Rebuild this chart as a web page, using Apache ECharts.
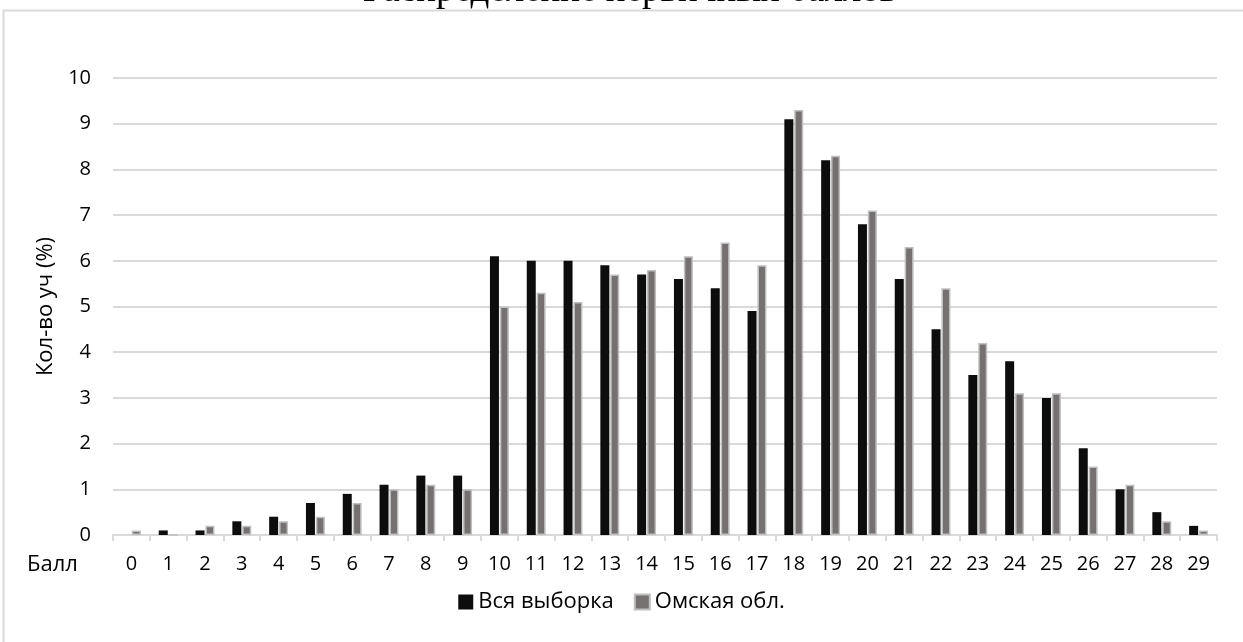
<!DOCTYPE html>
<html>
<head>
<meta charset="utf-8">
<script src="https://cdn.jsdelivr.net/npm/echarts@6/dist/echarts.min.js"></script>
<style>
html,body{margin:0;padding:0;background:#fff;}
#chart{width:1243px;height:642px;}
</style>
</head>
<body>
<div id="chart"></div>
<script>
const titleText = 'Распределение первичных баллов';
const categories = ['0','1','2','3','4','5','6','7','8','9','10','11','12','13','14','15','16','17','18','19','20','21','22','23','24','25','26','27','28','29'];
const seriesNames = ['Вся выборка', 'Омская обл.'];
const allSample = [0, 0.1, 0.1, 0.3, 0.4, 0.7, 0.9, 1.1, 1.3, 1.3, 6.1, 6.0, 6.0, 5.9, 5.7, 5.6, 5.4, 4.9, 9.1, 8.2, 6.8, 5.6, 4.5, 3.5, 3.8, 3.0, 1.9, 1.0, 0.5, 0.2];
const omsk = [0.1, 0, 0.2, 0.2, 0.3, 0.4, 0.7, 1.0, 1.1, 1.0, 5.0, 5.3, 5.1, 5.7, 5.8, 6.1, 6.4, 5.9, 9.3, 8.3, 7.1, 6.3, 5.4, 4.2, 3.1, 3.1, 1.5, 1.1, 0.3, 0.1];
const yAxisName = 'Кол-во уч (%)';
const xAxisName = 'Балл';

const FONT = 'Open Sans';
const chart = echarts.init(document.getElementById('chart'), null, {renderer: 'canvas'});
chart.setOption({
  animation: false,
  backgroundColor: '#fff',
  graphic: [
    {type: 'rect', shape: {x: 3.5, y: 10.5, width: 1400, height: 800}, style: {fill: 'none', stroke: '#d9d9d9', lineWidth: 2}, silent: true},
    {type: 'text', x: 630, y: -9, style: {text: titleText, font: '37px "Liberation Serif"', fill: '#000', align: 'center', verticalAlign: 'middle'}},
    {type: 'text', x: 27, y: 565, style: {text: xAxisName, font: '22px "' + FONT + '"', fill: '#000', align: 'left', verticalAlign: 'middle'}}
  ],
  grid: {left: 113, right: 26, top: 78, bottom: 107, containLabel: false},
  legend: {
    data: seriesNames,
    bottom: 24,
    left: 'center',
    icon: 'rect',
    itemWidth: 15,
    itemHeight: 15,
    itemGap: 20,
    textStyle: {fontFamily: FONT, fontSize: 22, color: '#000'}
  },
  xAxis: {
    type: 'category',
    data: categories,
    boundaryGap: true,
    axisLine: {lineStyle: {color: '#d9d9d9', width: 2}},
    axisTick: {show: true, length: 6, lineStyle: {color: '#d9d9d9', width: 2}},
    axisLabel: {fontFamily: FONT, fontSize: 20, color: '#000', margin: 19, interval: 0}
  },
  yAxis: {
    type: 'value',
    min: 0, max: 10, interval: 1,
    name: yAxisName,
    nameLocation: 'middle',
    nameRotate: 90,
    nameGap: 56,
    nameTextStyle: {fontFamily: FONT, fontSize: 22, color: '#000'},
    axisLine: {show: false},
    axisTick: {show: false},
    axisLabel: {fontFamily: FONT, fontSize: 20, color: '#000', margin: 22},
    splitLine: {lineStyle: {color: '#d9d9d9', width: 2}}
  },
  series: [
    {name: seriesNames[0], type: 'bar', data: allSample, barWidth: 9, barGap: '10%',
     itemStyle: {color: '#0d0d0d'}},
    {name: seriesNames[1], type: 'bar', data: omsk, barWidth: 9,
     itemStyle: {color: '#767171', borderColor: '#bfbfbf', borderWidth: 1.5}}
  ]
});
</script>
</body>
</html>
